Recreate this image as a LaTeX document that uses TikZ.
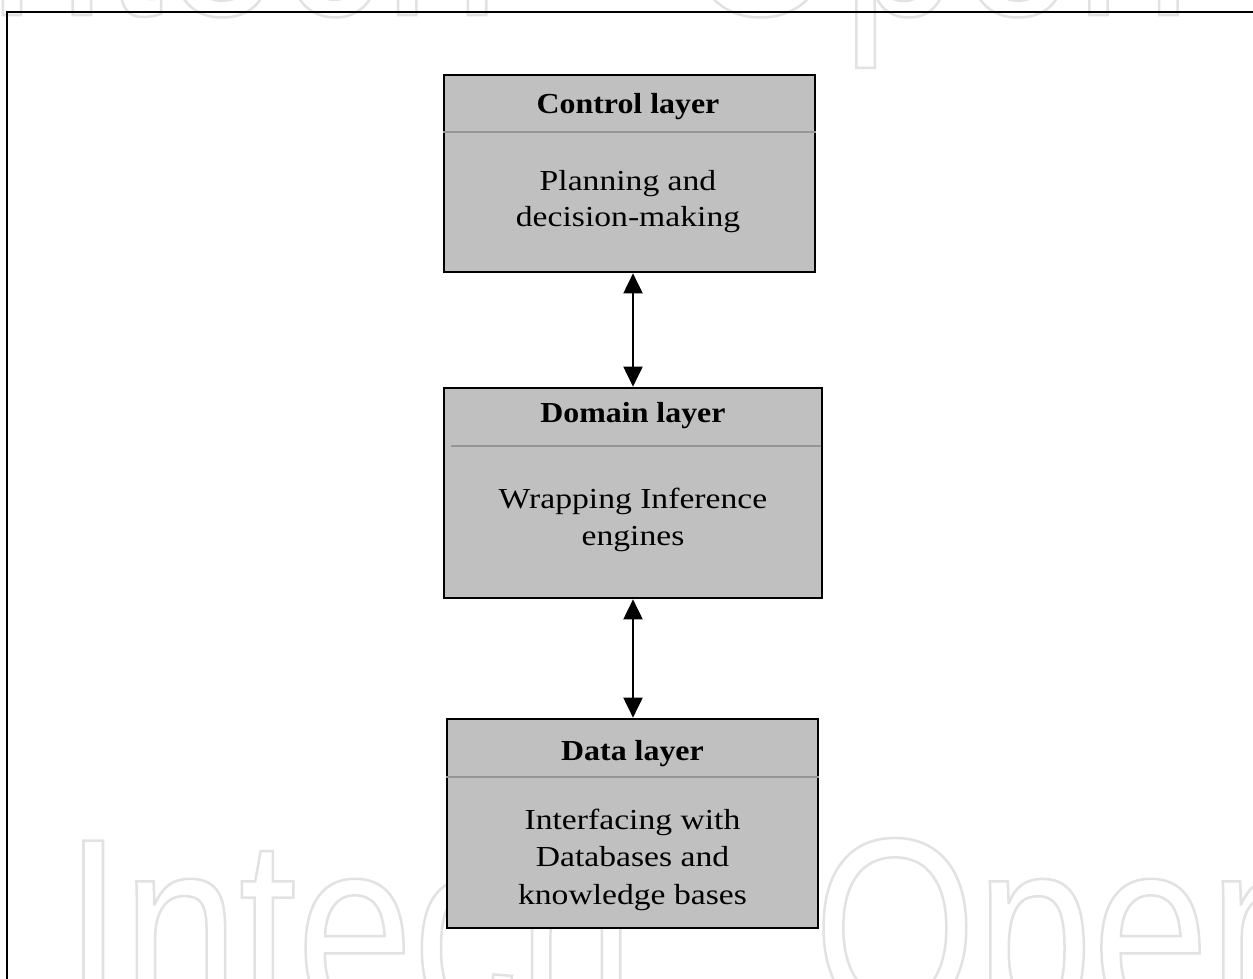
\documentclass[tikz,border=0pt]{standalone}
\usepackage{fontspec}
\setmainfont[FakeStretch=1.16]{Liberation Serif}
\newfontfamily\titlefont[FakeStretch=1.1]{Liberation Serif}
\newfontfamily\wmfont[FakeStretch=0.82]{Liberation Sans}
\usetikzlibrary{arrows.meta}
\definecolor{boxgray}{RGB}{192,192,192}
\definecolor{sepgray}{RGB}{150,150,150}
\definecolor{wmgray}{RGB}{226,226,226}
\newcommand{\outlinetext}[1]{\special{pdf:literal direct 1 Tr 2.5 w}#1\special{pdf:literal direct 0 Tr}}
\tikzset{
  layerbox/.style={draw=black, line width=2.7pt, fill=boxgray, inner sep=0pt, rectangle},
  titletext/.style={font=\titlefont\bfseries\fontsize{29}{36}\selectfont, anchor=base, inner sep=0pt},
  bodytext/.style={font=\fontsize{29}{37}\selectfont, anchor=base, inner sep=0pt},
  sepline/.style={draw=sepgray, line width=2pt},
  biarrow/.style={{Triangle[length=20pt,width=19pt]}-{Triangle[length=20pt,width=19pt]}, line width=2pt},
  wmark/.style={text=wmgray, font=\wmfont\fontsize{255}{280}\selectfont, anchor=base west, inner sep=0pt},
  framestyle/.style={draw=black, line width=2pt}
}
\begin{document}
\begin{tikzpicture}[x=1pt, y=-1pt]
\useasboundingbox (0,0) rectangle (1253,979);
\fill[white] (0,0) rectangle (1253,979);
% watermark
\node[wmark] (wmtop) at (-70,15) {\outlinetext{Intech\kern180pt Open}};
\node[wmark] (wmbot) at (64,1016) {\outlinetext{Intech\kern180pt Open}};
% frame
\draw[framestyle] (7,979) -- (7,12) -- (1253,12);
% boxes
\node[layerbox, minimum width=371pt, minimum height=197pt] (control) at (629.5,173.5) {};
\node[layerbox, minimum width=378pt, minimum height=210pt] (domain) at (633,493) {};
\node[layerbox, minimum width=371pt, minimum height=209pt] (data) at (632.5,823.5) {};
% separators
\draw[sepline] ([yshift=-58pt]control.north west) -- ([yshift=-58pt]control.north east);
\draw[sepline] ([xshift=8pt,yshift=-59pt]domain.north west) -- ([xshift=-2pt,yshift=-59pt]domain.north east);
\draw[sepline] ([yshift=-59pt]data.north west) -- ([yshift=-59pt]data.north east);
% texts
\node[titletext] (ctitle) at (628,114) {Control layer};
\node[bodytext] (cbody1) at (628,190) {Planning and};
\node[bodytext] (cbody2) at (628,226) {decision-making};
\node[titletext] (dtitle) at (633,422) {Domain layer};
\node[bodytext] (dbody1) at (633,508) {Wrapping Inference};
\node[bodytext] (dbody2) at (633,545) {engines};
\node[titletext] (atitle) at (632.5,760) {Data layer};
\node[bodytext] (abody1) at (632.5,829) {Interfacing with};
\node[bodytext] (abody2) at (632.5,866) {Databases and};
\node[bodytext] (abody3) at (632.5,904) {knowledge bases};
% arrows
\draw[biarrow] (control.south -| domain.north) -- (domain.north);
\draw[biarrow] (domain.south) -- (data.north -| domain.south);
\end{tikzpicture}
\end{document}
